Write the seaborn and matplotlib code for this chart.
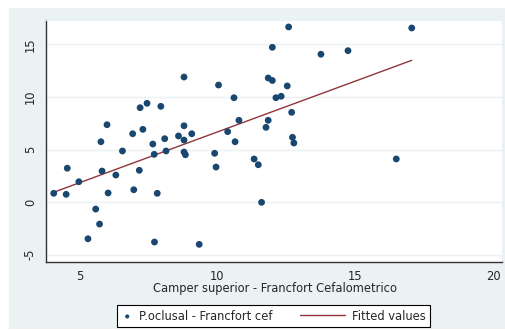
import numpy as np
import pandas as pd
import matplotlib
matplotlib.use("Agg")
import matplotlib.pyplot as plt
from matplotlib.collections import PathCollection
from matplotlib.lines import Line2D
from matplotlib.legend_handler import HandlerPathCollection, HandlerLine2D
import seaborn as sns

# Camper superior vs. occlusal plane, both relative to Frankfort (cephalometric)
camper_frankfort = [
    4.07, 4.52, 4.56, 4.98, 5.31, 5.59, 5.73, 5.78, 5.82, 6.00,
    6.04, 6.32, 6.56, 6.93, 6.97, 7.17, 7.20, 7.30, 7.45, 7.66,
    7.71, 7.72, 7.82, 7.95, 8.09, 8.14, 8.59, 8.79, 8.79, 8.79,
    8.79, 8.84, 9.07, 9.34, 9.90, 9.95, 10.04, 10.37, 10.60, 10.64,
    10.78, 11.33, 11.48, 11.60, 11.76, 11.84, 11.84, 11.99, 11.99, 12.12,
    12.31, 12.53, 12.58, 12.69, 12.72, 12.77, 13.75, 14.73, 16.48, 17.04,
]
oclusal_frankfort = [
    0.83, 0.73, 3.22, 1.93, -3.50, -0.67, -2.10, 5.74, 2.95, 7.36,
    0.86, 2.57, 4.86, 6.50, 1.17, 3.02, 8.98, 6.92, 9.40, 5.52,
    4.54, -3.81, 0.83, 9.11, 6.03, 4.86, 6.29, 11.90, 7.26, 5.90,
    4.76, 4.50, 6.50, -4.03, 4.64, 3.33, 11.14, 6.70, 9.93, 5.74,
    7.78, 4.10, 3.55, -0.03, 7.11, 7.78, 11.81, 11.57, 14.73, 9.93,
    10.07, 11.05, 16.67, 8.54, 6.16, 5.62, 14.07, 14.41, 4.10, 16.57,
]
x_ticks = [5, 10, 15, 20]
y_ticks = [-5, 0, 5, 10, 15]
x_title = "Camper superior - Francfort Cefalometrico"
scatter_label = "P.oclusal - Francfort cef"
fit_label = "Fitted values"

df = pd.DataFrame({"x": camper_frankfort, "y": oclusal_frankfort})

sns.set_style("white")
plt.rcParams["font.family"] = ["DejaVu Sans"]

W, H = 505, 330
fig = plt.figure(figsize=(W / 100, H / 100), dpi=100, facecolor="white")

graph_bg = "#EAF2F3"
navy = "#1A476F"
maroon = "#90353B"
fs = 8.3

# graph region backdrop
fig.patches.append(plt.Rectangle((9 / W, 1 / H), 1 - 9 / W, 1 - 9 / H,
                                 transform=fig.transFigure, facecolor=graph_bg,
                                 edgecolor="none", zorder=-10))

ax = fig.add_axes([46 / W, (H - 262) / H, 456 / W, 242 / H])
ax.set_facecolor("white")

sns.scatterplot(data=df, x="x", y="y", ax=ax, color=navy, s=24,
                edgecolor="none", label=scatter_label, zorder=3)
sns.regplot(data=df, x="x", y="y", ax=ax, scatter=False, ci=None,
            truncate=True, color=maroon, line_kws={"lw": 1.0, "zorder": 2},
            label=fit_label)

ax.set_xlim(3.79, 20.31)
ax.set_ylim(-5.71, 17.33)
ax.set_xticks(x_ticks)
ax.set_yticks(y_ticks)
ax.set_xticklabels([str(t) for t in x_ticks], fontsize=fs)
ax.set_yticklabels([str(t) for t in y_ticks], fontsize=fs, rotation=90,
                   va="center")
ax.tick_params(axis="both", direction="out", length=5, width=0.8,
               color="#333333", pad=1.5)
ax.tick_params(axis="x", pad=0.5)
ax.set_xlabel("")
ax.set_ylabel("")
ax.grid(axis="y", color=graph_bg, lw=1.0, zorder=1)
ax.set_axisbelow(True)

for side in ["top", "right"]:
    ax.spines[side].set_color(graph_bg)
    ax.spines[side].set_linewidth(0.8)
ax.spines["left"].set_color("#333333")
ax.spines["bottom"].set_color("#333333")
ax.spines["left"].set_linewidth(1.0)
ax.spines["bottom"].set_linewidth(1.0)

fig.text(275 / W, 1 - 288.5 / H, x_title, ha="center", va="center",
         fontsize=fs)


class LeftMarkerHandler(HandlerPathCollection):
    """Scatter key drawn in the middle of its (short) handle box."""
    def get_xdata(self, legend, xdescent, ydescent, width, height, fontsize):
        x = -xdescent + 0.5 * width
        return [x], [x]


class LongLineHandler(HandlerLine2D):
    """Line key that reaches further left than the handle box."""
    line_pts = 33.0

    def get_xdata(self, legend, xdescent, ydescent, width, height, fontsize):
        x1 = -xdescent + width
        x0 = x1 - self.line_pts
        return [x0, x1], [x0, x1]


handles, labels = ax.get_legend_handles_labels()
if ax.legend_:
    ax.legend_.remove()
leg = fig.legend(handles, labels, ncol=2, loc="center",
                 bbox_to_anchor=(273.5 / W, 1 - 316 / H), fontsize=fs,
                 frameon=True, fancybox=False, edgecolor="black",
                 facecolor="white", framealpha=1, borderpad=0.35,
                 handlelength=1.0, columnspacing=5.3, handletextpad=0.55,
                 markerscale=0.6,
                 handler_map={PathCollection: LeftMarkerHandler(),
                              Line2D: LongLineHandler()})
leg.get_frame().set_linewidth(0.8)

fig.savefig("out.png", dpi=100, facecolor="white")
